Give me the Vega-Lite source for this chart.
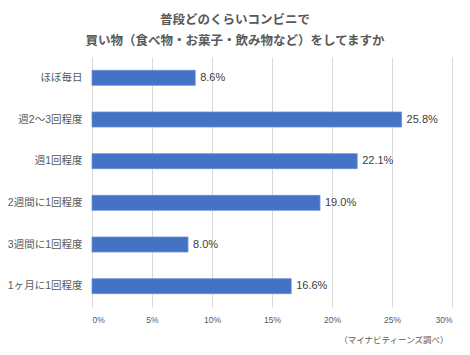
{
  "$schema": "https://vega.github.io/schema/vega-lite/v6.json",
  "autosize": {"type": "none"},
  "width": 360,
  "height": 250,
  "padding": {"left": 92, "top": 57, "right": 18, "bottom": 48},
  "background": "white",
  "config": {
    "font": "Liberation Sans, Noto Sans CJK JP",
    "view": {"stroke": null}
  },
  "title": {
    "text": ["普段どのくらいコンビニで", "買い物（食べ物・お菓子・飲み物など）をしてますか"],
    "font": "Noto Sans CJK JP",
    "fontSize": 12.5,
    "fontWeight": "bold",
    "color": "#595959",
    "lineHeight": 21,
    "anchor": "middle",
    "dx": -37,
    "offset": 10
  },
  "data": {
    "values": [
      {"category": "ほぼ毎日", "value": 0.086},
      {"category": "週2〜3回程度", "value": 0.258},
      {"category": "週1回程度", "value": 0.221},
      {"category": "2週間に1回程度", "value": 0.190},
      {"category": "3週間に1回程度", "value": 0.080},
      {"category": "1ヶ月に1回程度", "value": 0.166}
    ]
  },
  "encoding": {
    "y": {
      "field": "category",
      "type": "nominal",
      "sort": null,
      "scale": {"paddingInner": 0.64, "paddingOuter": 0.32},
      "axis": {
        "title": null,
        "domain": false,
        "ticks": false,
        "labelFontSize": 10.5,
        "labelColor": "#595959",
        "labelPadding": 10
      }
    },
    "x": {
      "field": "value",
      "type": "quantitative",
      "scale": {"domain": [0, 0.3], "nice": false},
      "axis": {
        "format": ".0%",
        "values": [0, 0.05, 0.1, 0.15, 0.2, 0.25, 0.3],
        "grid": true,
        "gridColor": "#d9d9d9",
        "domain": false,
        "ticks": false,
        "labelFontSize": 8.5,
        "labelColor": "#595959",
        "labelPadding": 8,
        "title": "（マイナビティーンズ調べ）",
        "titleFont": "Noto Sans CJK JP",
        "titleFontSize": 8.5,
        "titleFontWeight": "normal",
        "titleColor": "#595959",
        "titleAnchor": "end",
        "titleAlign": "right",
        "titlePadding": 12,
        "titleX": 356
      }
    }
  },
  "layer": [
    {"mark": {"type": "bar", "color": "#4472C4", "stroke": "#6a8fd4", "strokeWidth": 0.8}},
    {
      "mark": {"type": "text", "align": "left", "baseline": "middle", "dx": 5, "fontSize": 11, "color": "#404040"},
      "encoding": {"text": {"field": "value", "type": "quantitative", "format": ".1%"}}
    }
  ]
}
